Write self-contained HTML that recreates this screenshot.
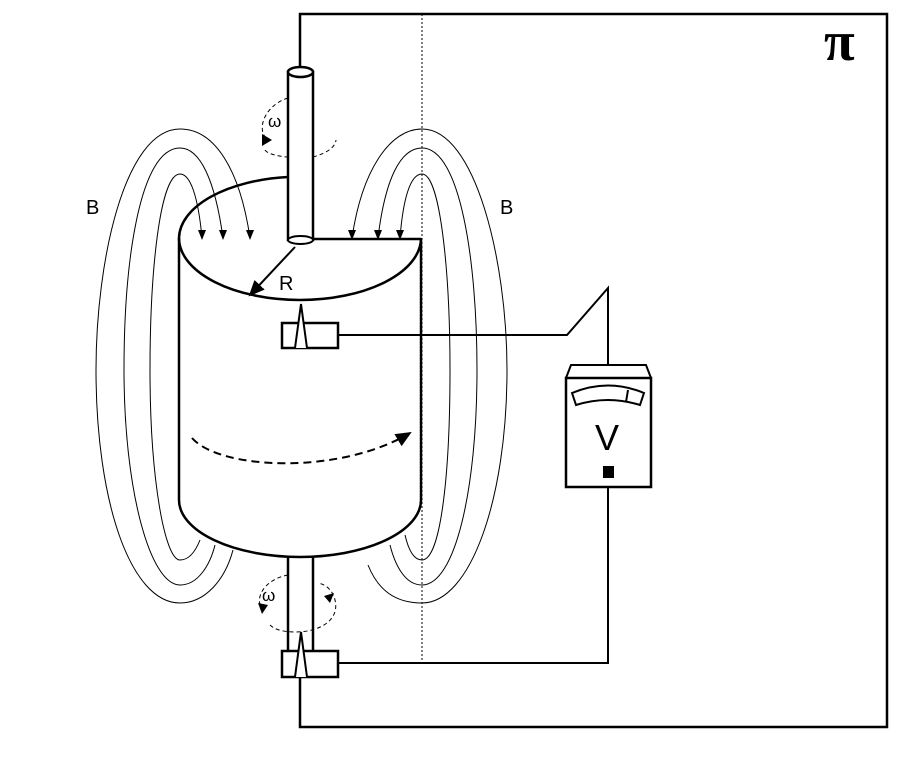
<!DOCTYPE html>
<html><head><style>body{margin:0;background:#fff}svg{display:block}</style></head><body>
<svg width="917" height="767" viewBox="0 0 917 767" xmlns="http://www.w3.org/2000/svg">
<defs>
<marker id="b" markerWidth="16" markerHeight="14" refX="14" refY="7" orient="auto" markerUnits="userSpaceOnUse"><path d="M0,0 L16,7 L0,14 z" fill="#000"/></marker>
</defs>
<g fill="none" stroke="#000">
<path d="M300,68 L300,14 L887,14 L887,727 L300,727 L300,677" stroke-width="2.5"/>
<line x1="422" y1="14" x2="422" y2="662" stroke-width="1" stroke-dasharray="2,2"/>
<!-- left field lines -->
<path d="M250,238 C240,170 215,129 180,129 C125,129 96,260 96,370 C96,500 130,603 180,603 C205,603 225,580 233,550" stroke-width="1"/>
<path d="M223,238 C215,180 200,148 180,148 C140,148 124,260 124,370 C124,490 150,585 180,585 C198,585 210,565 215,545" stroke-width="1"/>
<path d="M202,238 C198,195 190,174 180,174 C160,174 150,270 150,370 C150,480 165,560 180,560 C190,560 196,550 200,540" stroke-width="1"/>
<!-- right field lines -->
<path d="M352,238 C362,170 390,129 422,129 C475,129 507,260 507,370 C507,500 470,603 422,603 C395,603 378,590 368,565" stroke-width="1"/>
<path d="M378,238 C385,180 400,148 422,148 C460,148 477,260 477,370 C477,490 455,585 422,585 C405,585 395,565 390,545" stroke-width="1"/>
<path d="M400,238 C403,200 410,174 422,174 C440,174 450,270 450,370 C450,480 440,560 422,560 C413,560 408,548 405,535" stroke-width="1"/>
<!-- cylinder -->
<path d="M179,500 L179,238 A121,62 0 0 1 288,177" stroke-width="2.5"/>
<path d="M179,238 A121,62 0 0 0 421,238 L421,500" stroke-width="2.5"/>
<line x1="313" y1="239" x2="421" y2="239" stroke-width="2.5"/>
<path d="M179,500 A121,57 0 0 0 421,500" stroke-width="2.5" fill="#fff"/>
<!-- top shaft -->
<rect x="288" y="72" width="25" height="168" fill="#fff" stroke-width="2.5"/>
<ellipse cx="300.5" cy="240" rx="12.5" ry="4" fill="#fff" stroke-width="2"/>
<ellipse cx="300.5" cy="72" rx="12.5" ry="5" fill="#fff" stroke-width="2.5"/>
<!-- bottom shaft -->
<line x1="288" y1="557" x2="288" y2="651" stroke-width="2.5"/>
<line x1="313" y1="557" x2="313" y2="651" stroke-width="2.5"/>
<!-- omega circles -->
<path d="M288,98 C265,105 255,130 268,140" stroke-width="1" stroke-dasharray="4,3"/>
<path d="M265,150 C268,155 285,157 288,157 M313,157 C320,155 335,150 336,140" stroke-width="1" stroke-dasharray="4,3"/>
<path d="M288,575 C262,580 255,600 262,608 M270,625 C275,630 285,632 295,632 C320,632 340,620 335,600 C333,592 328,585 318,583" stroke-width="1" stroke-dasharray="4,3"/>
<line x1="295" y1="247" x2="250" y2="295" stroke-width="2" marker-end="url(#b)"/>
<path d="M192,438 C220,470 340,475 410,433" stroke-width="2" stroke-dasharray="8,5" marker-end="url(#b)"/>
<!-- brushes -->
<rect x="282" y="323" width="56" height="25" fill="#fff" stroke-width="2.5"/>
<path d="M295,348 L301,304 L307,348" fill="#fff" stroke-width="2"/>
<rect x="282" y="651" width="56" height="26" fill="#fff" stroke-width="2.5"/>
<path d="M295,677 L301,632 L307,677" fill="#fff" stroke-width="2"/>
<path d="M338,335 L567,335 L608,288 L608,365" stroke-width="2"/>
<path d="M608,487 L608,663 L338,663" stroke-width="2"/>
<!-- meter -->
<rect x="566" y="378" width="85" height="109" stroke-width="2.5"/>
<path d="M566,378 L571,365 L646,365 L651,378" stroke-width="2"/>
<path d="M572,393 Q608,378 644,393 L640,405 Q608,395 576,405 Z" stroke-width="2"/>
<line x1="628" y1="390" x2="626" y2="402" stroke-width="2"/>
</g>
<g fill="#000">
<path d="M246,230 L254,230 L250,240 z"/><path d="M219,230 L227,230 L223,240 z"/><path d="M198,230 L206,230 L202,240 z"/>
<path d="M348,230 L356,230 L352,240 z"/><path d="M374,230 L382,230 L378,240 z"/><path d="M396,230 L404,230 L400,240 z"/>
<path d="M262,134 L272,140 L262,146 z"/>
<path d="M258,603 L268,605 L262,614 z"/>
<path d="M324,596 L334,593 L330,603 z"/>
<rect x="603" y="466" width="11" height="12"/>
</g>
<g font-family="Liberation Sans, sans-serif" fill="#000">
<text x="86" y="214" font-size="20">B</text>
<text x="500" y="214" font-size="20">B</text>
<text x="279" y="290" font-size="20">R</text>
<text x="268" y="127" font-size="17">ω</text>
<text x="262" y="601" font-size="17">ω</text>
<text x="595" y="450" font-size="36">V</text>
<text x="824" y="60" font-size="56" font-weight="bold" font-family="Liberation Serif, serif">π</text>
</g>
</svg>
</body></html>
